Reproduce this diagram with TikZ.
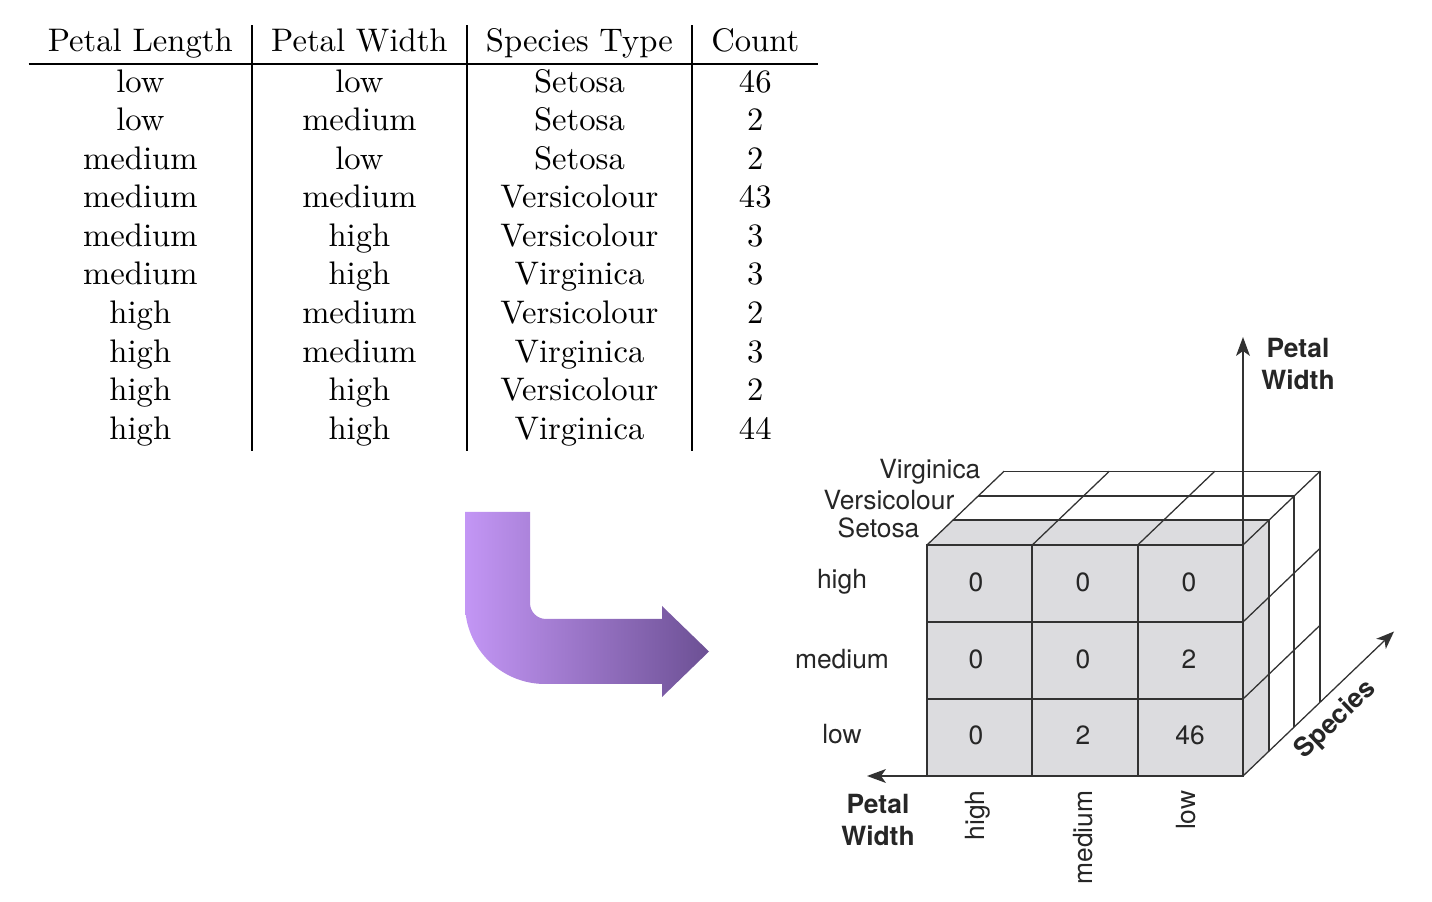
\documentclass[tikz,border=0pt]{standalone}
\usepackage{fontspec}
\setsansfont{TeX Gyre Heros}
\setlength{\arrayrulewidth}{0.6pt}
\definecolor{cubegray}{RGB}{220,220,223}
\definecolor{cubeline}{RGB}{50,50,50}
\definecolor{arrowlight}{RGB}{195,150,245}
\definecolor{arrowdark}{RGB}{108,80,148}
\tikzset{
  cubetext/.style={font=\sffamily\fontsize{8.25}{9.7}\selectfont, text=black!85},
  axistext/.style={font=\sffamily\bfseries\fontsize{8.25}{9.7}\selectfont, text=black!85, align=center},
  thickline/.style={cubeline, line width=0.65pt},
  thinline/.style={cubeline, line width=0.4pt}
}
\begin{document}
\begin{tikzpicture}[x=0.3125pt,y=-0.3125pt]
\tikzstyle{every node}+=[inner sep=0pt]
\useasboundingbox (0,0) rectangle (1432,902);
% the table
\draw (28,24) node [anchor=north west] (tbl) {\fontsize{10.2}{12.05}\selectfont\begin{tabular}{c|c|c|c}
Petal Length & Petal Width & Species Type & Count\\ \hline
low & low & Setosa & 46\\
low & medium & Setosa & 2\\
medium & low & Setosa & 2\\
medium & medium & Versicolour & 43\\
medium & high & Versicolour & 3\\
medium & high & Virginica & 3\\
high & medium & Versicolour & 2\\
high & medium & Virginica & 3\\
high & high & Versicolour & 2\\
high & high & Virginica & 44
\end{tabular}};
% bent arrow
\shade [left color=arrowlight, right color=arrowdark] (465,512) -- (530,512) -- (530,603)
  arc [start angle=180, end angle=90, radius=16] -- (662,619) -- (662,606) -- (709,651.5)
  -- (662,697) -- (662,684) -- (545,684) arc [start angle=90, end angle=180, radius=80] -- cycle;
% shaded faces of the Setosa slice
\fill [cubegray] (927,545) rectangle (1243,776);
\fill [cubegray] (927,545) -- (1243,545) -- (1268.7,520.4) -- (952.7,520.4) -- cycle;
\fill [cubegray] (1243,545) -- (1268.7,520.4) -- (1268.7,751.4) -- (1243,776) -- cycle;
% front grid
\draw [thickline] (927,545) rectangle (1243,776);
\draw [thickline] (1032.3,545) -- (1032.3,776);
\draw [thickline] (1137.7,545) -- (1137.7,776);
\draw [thickline] (927,622) -- (1243,622);
\draw [thickline] (927,699) -- (1243,699);
% top face
\draw [thickline] (952.7,520.4) -- (1268.7,520.4);
\draw [thickline] (978.4,495.8) -- (1294.4,495.8);
\draw [thinline] (1004.1,471.2) -- (1320.1,471.2);
\draw [thinline] (927,545) -- (1004.1,471.2);
\draw [thinline] (1032.3,545) -- (1109.4,471.2);
\draw [thinline] (1137.7,545) -- (1214.8,471.2);
\draw [thinline] (1243,545) -- (1320.1,471.2);
% right face
\draw [thickline] (1268.7,520.4) -- (1268.7,751.4);
\draw [thickline] (1294.4,495.8) -- (1294.4,726.8);
\draw [thinline] (1320.1,471.2) -- (1320.1,702.2);
\draw [thinline] (1243,622) -- (1320.1,548.2);
\draw [thinline] (1243,699) -- (1320.1,625.2);
% axes
\draw [thickline] (1243,545) -- (1243,350);
\fill [cubeline] (1243,337) -- (1250,356) -- (1243,351) -- (1236,356) -- cycle;
\draw [thickline] (927,776) -- (880,776);
\fill [cubeline] (867,776) -- (886,769) -- (881,776) -- (886,783) -- cycle;
\draw [thinline] (1243,776) -- (1384.6,640.5);
\fill [cubeline] (1394,631.5) -- (1385.8,649) -- (1384.6,640.5) -- (1376.2,638.8) -- cycle;
% axis labels
\draw (1298,364) node [axistext] (pwtop) {Petal\\Width};
\draw (878,820) node [axistext] (pwleft) {Petal\\Width};
\draw (1336,720) node [axistext, rotate=43.7] (species) {Species};
% species labels
\draw (981,472) node [cubetext, anchor=east] (virg) {Virginica};
\draw (955,500) node [cubetext, anchor=east] (vers) {Versicolour};
\draw (920,528) node [cubetext, anchor=east] (seto) {Setosa};
% row labels
\draw (842,582) node [cubetext] (rhigh) {high};
\draw (842,659) node [cubetext] (rmed) {medium};
\draw (842,734) node [cubetext] (rlow) {low};
% column labels
\draw (978,790) node [cubetext, rotate=90, anchor=east] (chigh) {high};
\draw (1083,790) node [cubetext, rotate=90, anchor=east] (cmed) {medium};
\draw (1186,790) node [cubetext, rotate=90, anchor=east] (clow) {low};
% counts
\draw (976,582) node [cubetext] (n11) {0};
\draw (1083,582) node [cubetext] (n12) {0};
\draw (1189,582) node [cubetext] (n13) {0};
\draw (976,659) node [cubetext] (n21) {0};
\draw (1083,659) node [cubetext] (n22) {0};
\draw (1189,659) node [cubetext] (n23) {2};
\draw (976,735) node [cubetext] (n31) {0};
\draw (1083,735) node [cubetext] (n32) {2};
\draw (1190,735) node [cubetext] (n33) {46};
\end{tikzpicture}
\end{document}
